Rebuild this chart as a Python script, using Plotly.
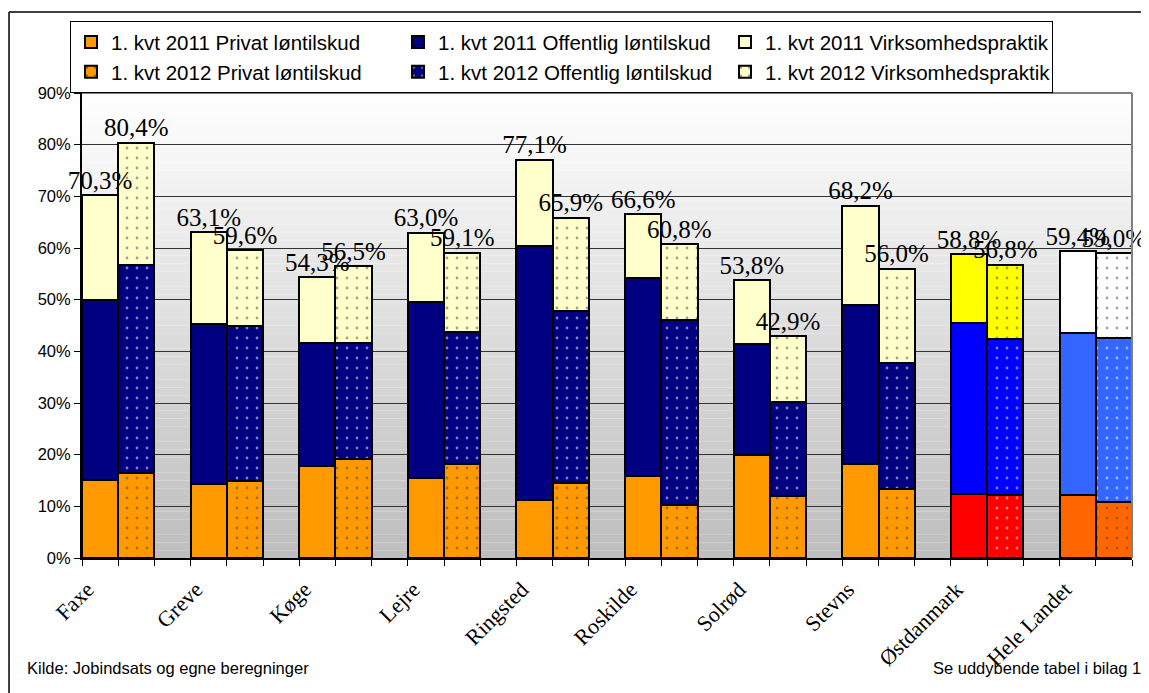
import plotly.graph_objects as go

# ---------------- data ----------------
categories = ["Faxe", "Greve", "Køge", "Lejre", "Ringsted", "Roskilde",
              "Solrød", "Stevns", "Østdanmark", "Hele Landet"]

privat_2011 = [15.1, 14.3, 17.8, 15.4, 11.2, 15.8, 19.9, 18.1, 12.4, 12.2]
offentlig_2011 = [34.9, 30.9, 23.9, 34.2, 49.2, 38.3, 21.6, 30.9, 33.0, 31.4]
virk_2011 = [20.3, 17.9, 12.6, 13.4, 16.7, 12.5, 12.3, 19.2, 13.4, 15.8]

privat_2012 = [16.4, 15.0, 19.1, 18.1, 14.6, 10.2, 12.0, 13.3, 12.2, 10.8]
offentlig_2012 = [40.4, 30.0, 22.6, 25.7, 33.3, 35.9, 18.1, 24.5, 30.2, 31.8]
virk_2012 = [23.6, 14.6, 14.8, 15.3, 18.0, 14.7, 12.8, 18.2, 14.4, 16.4]

series_names = ["Privat løntilskud", "Offentlig løntilskud", "Virksomhedspraktik"]
year_labels = ["1. kvt 2011", "1. kvt 2012"]

y_ticks = [0, 10, 20, 30, 40, 50, 60, 70, 80, 90]
y_tick_text = [f"{v}%" for v in y_ticks]

# ---------------- styling ----------------
col_privat = ["#FF9900"] * 8 + ["#FF0000", "#FF6600"]
col_off = ["#000080"] * 8 + ["#0000FF", "#3366FF"]
col_virk = ["#FFFFCC"] * 8 + ["#FFFF00", "#FFFFFF"]
colors = [col_privat, col_off, col_virk]
dot_colors = ["#000000", "#FFFFFF", "#000000"]

n = len(categories)
x2011 = [3 * i + 0.5 for i in range(n)]
x2012 = [3 * i + 1.5 for i in range(n)]

fig = go.Figure()

data = {
    0: [privat_2011, offentlig_2011, virk_2011],
    1: [privat_2012, offentlig_2012, virk_2012],
}
xs = {0: x2011, 1: x2012}

for yi in (0, 1):
    for si in range(3):
        pattern = dict(shape="") if yi == 0 else dict(
            shape=".", fgcolor=dot_colors[si], size=10, solidity=0.06, fillmode="overlay")
        fig.add_trace(go.Bar(
            x=xs[yi], y=data[yi][si], width=1,
            name=f"{year_labels[yi]} {series_names[si]}",
            marker=dict(color=colors[si], line=dict(color="#000000", width=2),
                        pattern=pattern),
            hoverinfo="skip",
        ))

tot2011 = [a + b + c for a, b, c in zip(privat_2011, offentlig_2011, virk_2011)]
tot2012 = [a + b + c for a, b, c in zip(privat_2012, offentlig_2012, virk_2012)]

label_x = x2011 + x2012
label_y = tot2011 + tot2012
label_t = [f"{v:.1f}%".replace(".", ",") for v in label_y]
fig.add_trace(go.Scatter(
    x=label_x, y=label_y, mode="text", text=label_t,
    textposition="top center",
    textfont=dict(family="Liberation Serif, Times New Roman, serif", size=25, color="#000"),
    showlegend=False, cliponaxis=False, hoverinfo="skip",
))

# background gradient bands (paper coords)
shapes = []
nb = 60
for k in range(nb):
    t = (k + 0.5) / nb
    g = int(round(255 - (255 - 189) * (1 - t)))
    shapes.append(dict(type="rect", xref="paper", yref="paper",
                       x0=0, x1=1, y0=k / nb, y1=(k + 1) / nb,
                       fillcolor=f"rgb({g},{g},{g})", line=dict(width=0), layer="below"))
# plot area border (top/right)
shapes.append(dict(type="line", xref="paper", yref="paper", x0=0, x1=1, y0=1, y1=1,
                   line=dict(color="#808080", width=2)))
shapes.append(dict(type="line", xref="paper", yref="paper", x0=1, x1=1, y0=0, y1=1,
                   line=dict(color="#808080", width=2)))
# outer frame
shapes.append(dict(type="line", xref="paper", yref="paper", x0=-0.0695, x1=1.03,
                   y0=1.174, y1=1.174, line=dict(color="#000000", width=1.5)))
shapes.append(dict(type="line", xref="paper", yref="paper", x0=-0.0695, x1=-0.0695,
                   y0=1.174, y1=-0.32, line=dict(color="#000000", width=1.5)))

sans = "Liberation Sans, Arial, sans-serif"

fig.update_layout(
    width=1149, height=693,
    margin=dict(l=74, r=25, t=85, b=143, autoexpand=False),
    paper_bgcolor="white", plot_bgcolor="white",
    barmode="stack", bargap=0,
    showlegend=True,
    legend=dict(orientation="h", x=-0.0114, xanchor="left", y=1.1545, yanchor="top",
                entrywidth=282, entrywidthmode="pixels",
                font=dict(family=sans, size=20.5, color="#000"),
                bgcolor="white", bordercolor="#000000", borderwidth=1,
                traceorder="normal", itemsizing="constant"),
    xaxis=dict(range=[0, 29], tickmode="array",
               tickvals=[3 * i + 0.15 for i in range(n)], ticktext=categories,
               tickangle=-45, ticks="", showgrid=False, zeroline=False,
               showline=True, linecolor="#000000", linewidth=2,
               tickfont=dict(family="Liberation Serif, Times New Roman, serif", size=22, color="#000"),
               minor=dict(ticks="outside", tick0=0, dtick=1, ticklen=6,
                          tickcolor="#000000", tickwidth=1, showgrid=False),
               ticklabelstandoff=8),
    yaxis=dict(range=[0, 90], tickmode="array", tickvals=y_ticks, ticktext=y_tick_text,
               ticks="outside", ticklen=6, tickcolor="#000000",
               showgrid=True, gridcolor="#333333", gridwidth=1, zeroline=False,
               showline=True, linecolor="#000000", linewidth=2,
               tickfont=dict(family=sans, size=16.5, color="#000")),
    shapes=shapes,
    annotations=[
        dict(text="Kilde: Jobindsats og egne beregninger", xref="paper", yref="paper",
             x=-0.0543, y=-0.2366, xanchor="left", yanchor="middle", showarrow=False,
             font=dict(family=sans, size=16.5, color="#000")),
        dict(text="Se uddybende tabel i bilag 1", xref="paper", yref="paper",
             x=1.0105, y=-0.2366, xanchor="right", yanchor="middle", showarrow=False,
             font=dict(family=sans, size=16.5, color="#000")),
    ],
)

fig.write_html("out.html")
